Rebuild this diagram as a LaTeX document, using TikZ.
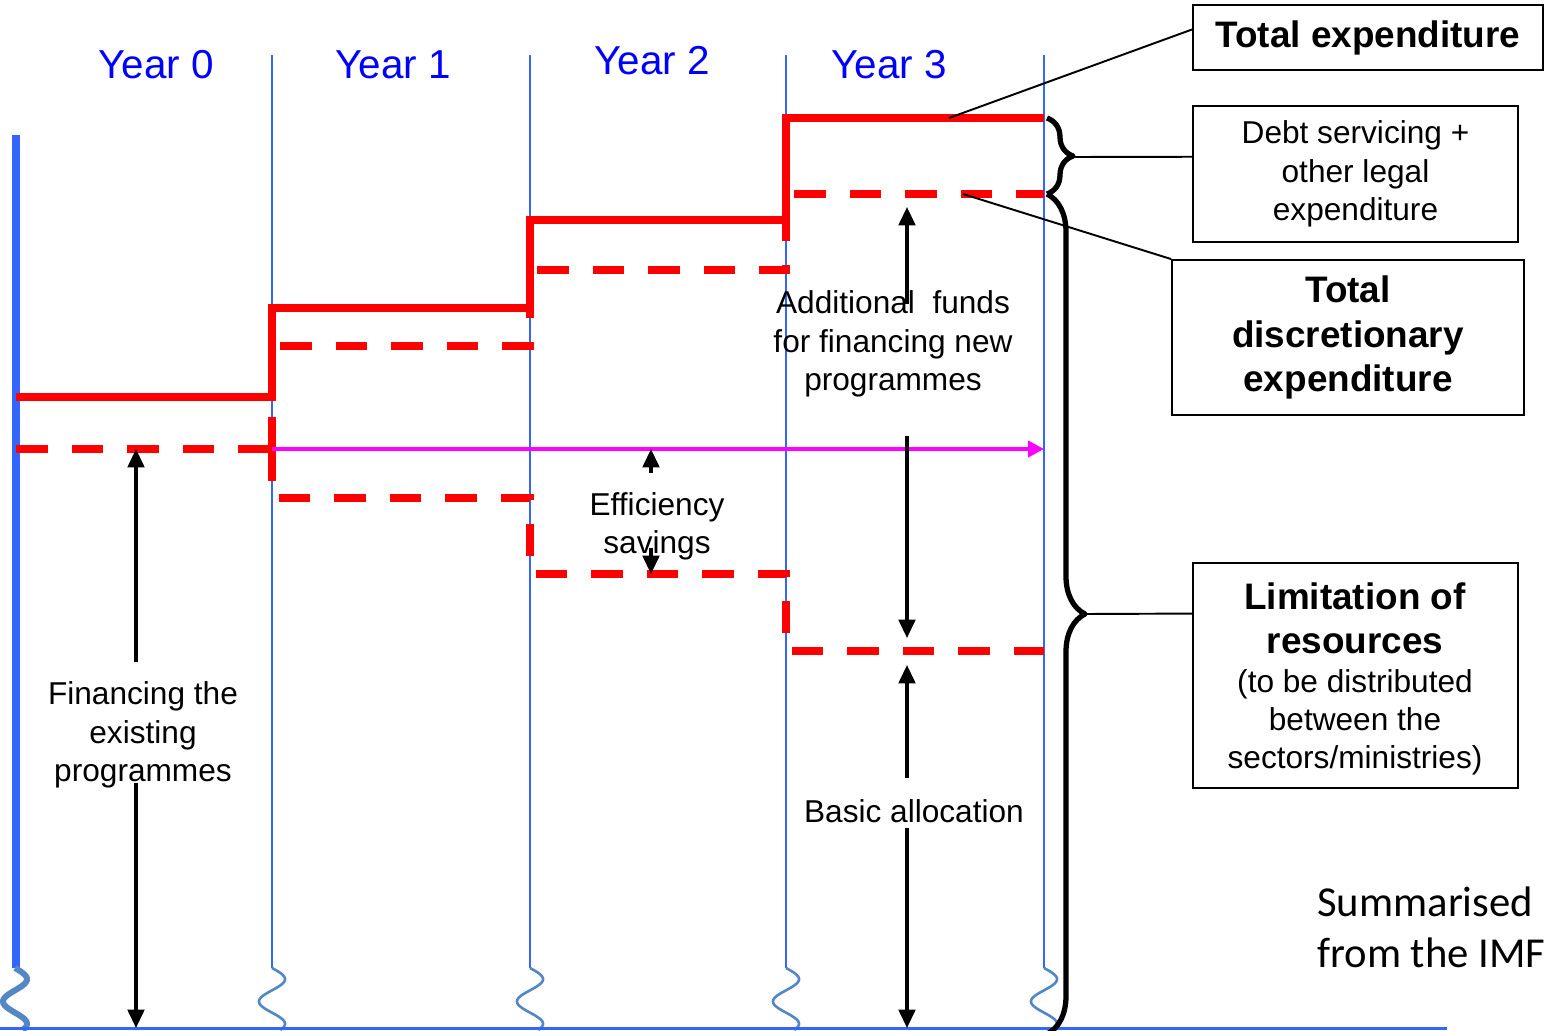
\documentclass[tikz,border=0pt]{standalone}
\usepackage{fontspec}
\setmainfont{Liberation Sans}
\newfontfamily\calibrifont{Carlito}
\usetikzlibrary{arrows.meta,decorations.pathreplacing,calc}
\definecolor{axisblue}{RGB}{51,102,255}
\definecolor{wavyblue}{RGB}{84,136,196}
\definecolor{yearblue}{RGB}{0,0,255}
\definecolor{pinkish}{RGB}{255,0,255}
\begin{document}
\begin{tikzpicture}[x=0.02cm,y=-0.02cm,
 redsolid/.style={draw=red,line width=4pt},
 reddash/.style={draw=red,line width=4pt,dash pattern=on 18pt off 13.6pt},
 gridline/.style={draw=axisblue,line width=0.9pt},
 wave/.style={draw=wavyblue,line width=1.5pt},
 blk/.style={draw=black,line width=1.8pt,-{Triangle[length=10.5pt,width=9.5pt]}},
 yearlbl/.style={text=yearblue,inner sep=0pt,font=\fontsize{23}{27}\selectfont},
 lbl/.style={align=center,inner sep=0pt,font=\fontsize{18}{21.8}\selectfont},
 boxnode/.style={draw=black,line width=1.1pt,align=center,inner sep=0pt},
 bfont/.style={align=center,font=\bfseries\fontsize{21}{25.3}\selectfont},
 conn/.style={draw=black,line width=1.1pt},
 bracestyle/.style={draw=black,line width=3pt,line join=round,decorate,decoration={brace,amplitude=#1}},
]
\useasboundingbox (0,0) rectangle (1546,1031);
\clip (0,0) rectangle (1546,1031);

% vertical year separators with wavy breaks
\foreach \xx in {272,530,786,1044} {
  \draw[gridline] (\xx,55) -- (\xx,968);
  \draw[wave] plot[domain=0:500,samples=80,variable=\t] ({\xx+13*sin(\t)},{968+\t*0.124});
}
% left axis
\draw[draw=axisblue,line width=4.5pt] (16,135) -- (16,968);
\draw[wave,line width=3.4pt] plot[domain=0:500,samples=80,variable=\t] ({15+12*sin(\t)},{968+\t*0.124});
% bottom line
\draw[draw=axisblue,line width=1.7pt] (0,1028) -- (1447,1028);

% year labels
\node[yearlbl] (y0) at (156,65) {Year 0};
\node[yearlbl] (y1) at (393,65) {Year 1};
\node[yearlbl] (y2) at (652,61) {Year 2};
\node[yearlbl] (y3) at (889,65) {Year 3};

% red staircases
\draw[redsolid] (16,397) -- (272,397) -- (272,308) -- (530,308) -- (530,220) -- (786,220) -- (786,118) -- (1044,118);
\draw[reddash] (16,449) -- (272,449);
\draw[reddash] (272,449) -- (272,346) -- (530,346) -- (530,270) -- (786,270) -- (786,194) -- (1044,194);
\draw[reddash] (272,449) -- (272,498) -- (530,498) -- (530,574) -- (786,574) -- (786,651) -- (1044,651);

% magenta arrow
\draw[draw=pinkish,line width=2.8pt,-{Triangle[length=9pt,width=9pt]}] (272,449) -- (1044,449);

% labels
\node[lbl] (addf) at (893,344) {Additional\ \ funds\\for financing new\\programmes};
\node[lbl] (eff) at (657,526) {Efficiency\\savings};
\node[lbl] (fin) at (143,735) {Financing the\\existing\\programmes};
\node[lbl] (basic) at (914,811) {Basic allocation};
\node[align=left,anchor=west,inner sep=0pt,font=\calibrifont\fontsize{24.3}{29}\selectfont] (imf) at (1317,927) {Summarised\\from the IMF};

% black arrows
\coordinate (finTop) at (136,449);
\coordinate (finBot) at (136,1028);
\draw[blk] (136,662) -- (finTop);
\draw[blk] (136,783) -- (finBot);
\draw[blk] (651,473) -- (651,449);
\draw[blk] (651,548) -- (651,574);
\draw[blk] (907,304) -- (907,207);
\draw[blk] (907,436) -- (907,638);
\draw[blk] (907,778) -- (907,665);
\draw[blk] (907,828) -- (907,1028);

% braces
\draw[bracestyle=0.52cm] (1047,118) -- (1047,194);
\draw[bracestyle=0.76cm] (1047,194) -- (1047,1034);
\coordinate (tipA) at (1073,157);
\coordinate (tipB) at (1085,614);

% boxes
\node[boxnode,minimum width=7cm,minimum height=1.3cm,bfont] (te) at (1368,37.5) {Total expenditure};
\node[boxnode,minimum width=6.5cm,minimum height=2.72cm,lbl] (debt) at (1355.5,174) {Debt servicing +\\other legal\\expenditure};
\node[boxnode,minimum width=7.04cm,minimum height=3.1cm,bfont] (tde) at (1348,337.5) {Total\\discretionary\\expenditure};
\node[boxnode,minimum width=6.5cm,minimum height=4.5cm] (lim) at (1355.5,675.5) {};
\node[bfont,inner sep=0pt] (limA) at (1355,618.5) {Limitation of\\resources};
\node[lbl] (limB) at (1355,722.5) {(to be distributed\\between the\\sectors/ministries)};

% connectors
\coordinate (teStart) at (949,118);
\coordinate (tdeStart) at (963,194);
\draw[conn] (teStart) -- ($(te.north west)!0.38!(te.south west)$);
\draw[conn] (tipA) -- ($(debt.north west)!0.375!(debt.south west)$);
\draw[conn] (tdeStart) -- (tde.north west);
\draw[conn] (tipB) -- ($(lim.north west)!0.227!(lim.south west)$);
\end{tikzpicture}
\end{document}
